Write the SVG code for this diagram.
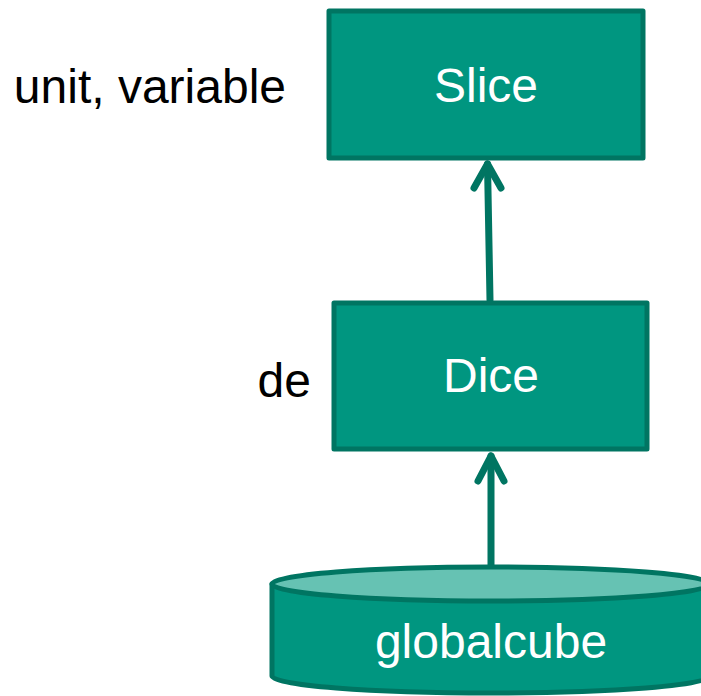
<svg xmlns="http://www.w3.org/2000/svg" width="701" height="696" viewBox="0 0 701 696">
  <style>
    .box { fill: #009680; stroke: #007562; stroke-width: 5; stroke-linejoin: round; }
    .top { fill: #66c2b3; stroke: #007562; stroke-width: 5; }
    .name { font-family: "Liberation Sans", Arial, sans-serif; font-size: 48px; fill: #ffffff; text-anchor: middle; }
    .lbl { font-family: "Liberation Sans", Arial, sans-serif; font-size: 48px; fill: #000000; text-anchor: end; }
    .edge { fill: none; stroke: #007562; stroke-width: 7; stroke-linecap: round; stroke-linejoin: round; }
  </style>
  <rect width="701" height="696" fill="#ffffff"/>

  <g id="connectors">
    <path class="edge" d="M490 300 L487.5 164"/>
    <path class="edge" d="M474 188 L487.5 164 L501 188"/>
    <path class="edge" d="M491 566 L491 456"/>
    <path class="edge" d="M478 481 L491 456 L504 481"/>
  </g>

  <g id="slice">
    <rect class="box" x="329" y="11" width="314" height="147"/>
    <text class="name" x="486" y="102">Slice</text>
    <text class="lbl" x="286" y="103">unit, variable</text>
  </g>

  <g id="dice">
    <rect class="box" x="334" y="303" width="313" height="146"/>
    <text class="name" x="491" y="392">Dice</text>
    <text class="lbl" x="311" y="397">de</text>
  </g>

  <g id="globalcube">
    <path class="box" d="M272 584 L272 676 A219 17 0 0 0 710 676 L710 584 Z"/>
    <ellipse class="top" cx="491" cy="584" rx="219" ry="17"/>
    <text class="name" x="491" y="658">globalcube</text>
  </g>
</svg>
